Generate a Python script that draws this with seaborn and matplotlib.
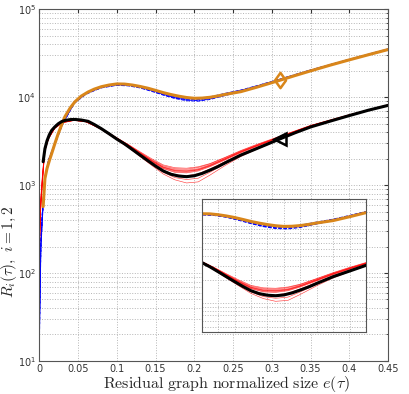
import matplotlib
matplotlib.use("Agg")
import matplotlib.pyplot as plt
import seaborn as sns
from matplotlib.path import Path
from matplotlib.ticker import LogLocator, MultipleLocator, NullFormatter

# e(tau) points for the two mean curves
e_mean = [0.005, 0.0073, 0.01, 0.013, 0.016, 0.02, 0.0245, 0.029, 0.033, 0.04, 0.046,
          0.054, 0.063, 0.071, 0.08, 0.09, 0.1, 0.11, 0.12, 0.13, 0.14, 0.15, 0.16,
          0.17, 0.18, 0.19, 0.2, 0.21, 0.22, 0.23, 0.24, 0.26, 0.28, 0.31, 0.33,
          0.35, 0.375, 0.4, 0.425, 0.45]
r1_mean = [570, 1190, 1550, 1900, 2290, 2950, 3870, 4900, 6000, 7600, 8900,
           10300, 11500, 12400, 13200, 13800, 14200, 14150, 13800, 13300, 12700, 12000, 11300,
           10750, 10300, 9950, 9750, 9800, 10000, 10350, 10800, 11600, 13000, 15600, 17700,
           20000, 23200, 26700, 30600, 35000]
r2_mean = [1850, 2600, 3200, 3750, 4200, 4600, 5000, 5300, 5450, 5580, 5600,
           5520, 5330, 4900, 4400, 3850, 3350, 2950, 2550, 2200, 1900, 1650, 1450,
           1330, 1270, 1250, 1280, 1360, 1480, 1620, 1800, 2200, 2600, 3350, 3950,
           4600, 5350, 6200, 7150, 8100]

# e(tau) points for the individual runs
e_runs = [0.0003, 0.002, 0.004, 0.007, 0.012, 0.02, 0.03, 0.045, 0.06, 0.08, 0.1, 0.115,
          0.13, 0.145, 0.16, 0.175, 0.19, 0.205, 0.22, 0.24, 0.26, 0.28, 0.31, 0.35, 0.4, 0.45]
blue_run1 = [20, 180, 420, 1100, 1850, 2900, 4900, 8500, 10800, 12900, 13900, 13700,
             12900, 11900, 10900, 10100, 9600, 9500, 9900, 10900, 11900, 13300, 15900, 20300, 26900, 35300]
blue_run2 = [30, 220, 480, 1200, 1950, 3000, 5100, 8800, 11200, 13100, 14000, 13800,
             13100, 12100, 11000, 10200, 9700, 9600, 10000, 11000, 12000, 13400, 16000, 20400, 27100, 35600]
blue_run3 = [25, 200, 450, 1150, 1900, 2950, 5000, 8600, 11000, 13000, 13950, 13800,
             13000, 12000, 10800, 9900, 9300, 9200, 9600, 10600, 11700, 13100, 15800, 20200, 26900, 35200]
blue_run4 = [40, 250, 500, 1180, 1880, 2920, 4950, 8650, 11050, 12800, 13700, 13500,
             12800, 11700, 10600, 9700, 9150, 9050, 9450, 10500, 11600, 13000, 15700, 20100, 26800, 35100]
blue_run5 = [22, 190, 430, 1120, 1920, 2980, 5050, 8750, 11150, 13050, 14050, 13900,
             13200, 12200, 11150, 10350, 9850, 9700, 10100, 11100, 12100, 13500, 16100, 20500, 27000, 35400]
blue_run6 = [35, 210, 460, 1160, 1900, 2960, 5020, 8700, 11050, 12950, 13850, 13650,
             12950, 11850, 10700, 9800, 9400, 9350, 9750, 10750, 11800, 13200, 15850, 20250, 26850, 35250]
red_run1 = [250, 650, 1200, 2500, 3450, 4500, 5200, 5500, 5300, 4450, 3450, 2900,
            2400, 2000, 1700, 1580, 1560, 1620, 1760, 2080, 2480, 2900, 3600, 4800, 6350, 8250]
red_run2 = [200, 600, 1100, 2450, 3400, 4450, 5150, 5450, 5250, 4380, 3420, 2850,
            2330, 1920, 1620, 1500, 1480, 1540, 1700, 2020, 2420, 2830, 3550, 4750, 6300, 8200]
red_run3 = [300, 700, 1250, 2550, 3500, 4550, 5250, 5550, 5350, 4420, 3400, 2820,
            2280, 1860, 1560, 1430, 1410, 1480, 1650, 1970, 2370, 2780, 3500, 4720, 6280, 8180]
red_run4 = [180, 550, 1050, 2400, 3380, 4450, 5150, 5480, 5280, 4350, 3330, 2740,
            2200, 1780, 1470, 1320, 1280, 1350, 1530, 1860, 2270, 2680, 3420, 4650, 6230, 8120]
red_run5 = [260, 620, 1150, 2480, 3420, 4480, 5180, 5500, 5300, 4300, 3280, 2680,
            2120, 1680, 1340, 1150, 1060, 1090, 1300, 1680, 2120, 2550, 3300, 4580, 6180, 8080]
red_run6 = [220, 680, 1180, 2520, 3460, 4520, 5220, 5530, 5330, 4400, 3380, 2790,
            2260, 1840, 1540, 1400, 1380, 1450, 1620, 1940, 2340, 2750, 3480, 4700, 6260, 8160]
red_run7 = [280, 580, 1080, 2420, 3440, 4500, 5230, 5560, 5360, 4460, 3460, 2880,
            2360, 1950, 1660, 1540, 1520, 1590, 1740, 2060, 2450, 2860, 3570, 4770, 6320, 8230]
red_run8 = [240, 560, 1020, 2380, 3360, 4420, 5120, 5460, 5260, 4320, 3300, 2700,
            2150, 1720, 1400, 1220, 1160, 1200, 1400, 1760, 2180, 2600, 3360, 4620, 6200, 8100]
red_run9 = [320, 720, 1300, 2560, 3520, 4560, 5260, 5570, 5370, 4440, 3440, 2860,
            2320, 1900, 1600, 1470, 1450, 1510, 1680, 2000, 2400, 2800, 3520, 4740, 6290, 8190]
red_run10 = [200, 640, 1140, 2460, 3430, 4470, 5190, 5510, 5310, 4410, 3410, 2830,
             2300, 1890, 1590, 1460, 1440, 1500, 1660, 1990, 2390, 2810, 3530, 4730, 6270, 8170]

blue_runs = [blue_run1, blue_run2, blue_run3, blue_run4, blue_run5, blue_run6]
red_runs = [red_run1, red_run2, red_run3, red_run4, red_run5,
            red_run6, red_run7, red_run8, red_run9, red_run10]
marker_e = 0.31
x_ticks = [0, 0.05, 0.1, 0.15, 0.2, 0.25, 0.3, 0.35, 0.4, 0.45]

sns.set_style("white")
plt.rcParams['mathtext.fontset'] = 'cm'
plt.rcParams['font.family'] = ['DejaVu Sans']

orange = '#d9861a'
grid_kw = dict(color='#b5b5b5', linestyle=':', linewidth=0.7)
diamond = Path([(0, 1), (0.72, 0), (0, -1), (-0.72, 0), (0, 1)],
               [Path.MOVETO, Path.LINETO, Path.LINETO, Path.LINETO, Path.CLOSEPOLY])


def draw_curves(ax, with_markers):
    for run in blue_runs:
        sns.lineplot(x=e_runs, y=run, ax=ax, color='#0000ff', lw=0.7,
                     linestyle='--', estimator=None, sort=False)
    for run in red_runs:
        sns.lineplot(x=e_runs, y=run, ax=ax, color='#ff0000', lw=0.45,
                     alpha=0.75, estimator=None, sort=False)
    mk = [e_mean.index(marker_e)] if with_markers else None
    sns.lineplot(x=e_mean, y=r1_mean, ax=ax, color=orange, lw=2.2,
                 estimator=None, sort=False, marker=diamond if with_markers else None,
                 markevery=mk, markersize=11, markerfacecolor='none',
                 markeredgecolor=orange, markeredgewidth=1.8)
    sns.lineplot(x=e_mean, y=r2_mean, ax=ax, color='black', lw=2.2,
                 estimator=None, sort=False, marker='<' if with_markers else None,
                 markevery=mk, markersize=9, markerfacecolor='none',
                 markeredgecolor='black', markeredgewidth=1.8)


fig = plt.figure(figsize=(4.09, 3.94), dpi=100)
ax = fig.add_axes([0.096, 0.084, 0.853, 0.892])
draw_curves(ax, True)

ax.set_yscale('log')
ax.set_xlim(0, 0.45)
ax.set_ylim(10, 1e5)
ax.set_xticks(x_ticks)
ax.set_xticklabels([f"{t:g}" for t in x_ticks])
ax.yaxis.set_major_locator(LogLocator(base=10, numticks=10))
ax.yaxis.set_minor_locator(LogLocator(base=10, subs=range(2, 10), numticks=50))
ax.yaxis.set_minor_formatter(NullFormatter())
ax.grid(True, which='major', **grid_kw)
ax.grid(True, which='minor', axis='y', **grid_kw)
ax.tick_params(axis='both', which='both', direction='in', top=True, right=True,
               labelsize=7, colors='#333333', length=3, pad=2.5)
ax.tick_params(which='minor', length=1.5)
for s in ax.spines.values():
    s.set_color('#555555')
    s.set_linewidth(0.8)

ax.set_xlabel(r"$\mathrm{Residual\ graph\ normalized\ size}\ e(\tau)$", fontsize=11.5)
ax.xaxis.set_label_coords(0.535, -0.038)
ax.set_ylabel(r"$R_i(\tau),\ i=1,2$", fontsize=11)
ax.yaxis.set_label_coords(-0.057, 0.31)

# inset zoom on the dip
ax_in = fig.add_axes([0.493, 0.158, 0.402, 0.337])
ax_in.set_facecolor('white')
draw_curves(ax_in, False)
ax_in.set_yscale('log')
ax_in.set_xlim(0.1, 0.3)
ax_in.set_ylim(430, 22000)
ax_in.xaxis.set_major_locator(MultipleLocator(0.02))
ax_in.yaxis.set_minor_locator(LogLocator(base=10, subs=range(2, 10), numticks=50))
ax_in.grid(True, which='major', **grid_kw)
ax_in.grid(True, which='minor', axis='y', **grid_kw)
ax_in.tick_params(which='both', length=0, labelbottom=False, labelleft=False)
for s in ax_in.spines.values():
    s.set_color('#555555')
    s.set_linewidth(0.8)

fig.savefig('out.png', dpi=100)
